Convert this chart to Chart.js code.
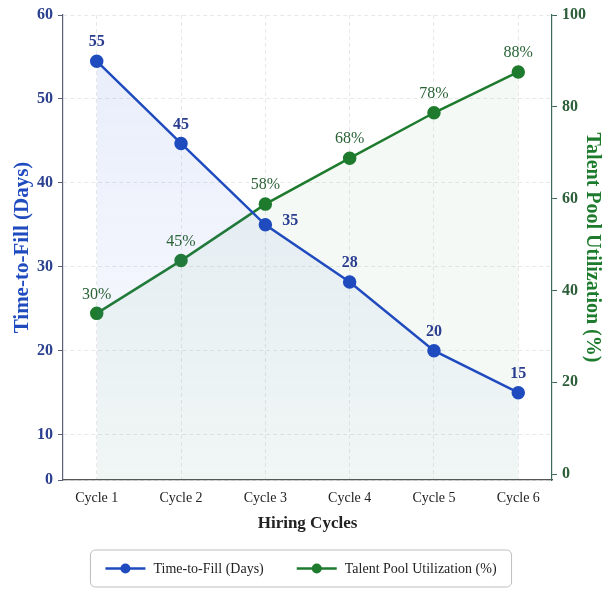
<!DOCTYPE html>
<html>
<head>
<meta charset="utf-8">
<script src="https://cdn.jsdelivr.net/npm/chart.js@4.4.0/dist/chart.umd.min.js"></script>
<style>
  html, body { margin: 0; padding: 0; background: #fff; }
</style>
</head>
<body>
<canvas id="hiringChart" width="602" height="589"></canvas>
<script>
// valores
const cycles = ['Cycle 1', 'Cycle 2', 'Cycle 3', 'Cycle 4', 'Cycle 5', 'Cycle 6'];
const timeToFill = [54.5, 44.7, 35, 28.2, 20, 15];
const timeToFillLabels = ['55', '45', '35', '28', '20', '15'];
const poolUtil = [35, 46.5, 58.8, 68.8, 78.7, 87.6];
const poolUtilLabels = ['30%', '45%', '58%', '68%', '78%', '88%'];
const leftTicks = [10, 20, 30, 40, 50, 60];
const rightTicks = [0, 20, 40, 60, 80, 100];
const LEFT_MIN = 4.6;

const BLUE = '#1f4bbf';
const GREEN = '#1e7b2e';
const FONT = "'Liberation Serif', 'Times New Roman', serif";

document.addEventListener('DOMContentLoaded', function() {
    const ctx = document.getElementById('hiringChart');

    // rótulos de valor sobre os pontos
    const valueLabels = {
        id: 'valueLabels',
        afterDatasetsDraw(chart) {
            const c = chart.ctx;
            chart.data.datasets.forEach((ds, di) => {
                const meta = chart.getDatasetMeta(di);
                c.save();
                c.font = (di === 0 ? 'bold ' : '') + '16px ' + FONT;
                c.fillStyle = di === 0 ? '#2a3d8f' : '#2a6236';
                c.textAlign = 'center';
                c.textBaseline = 'middle';
                meta.data.forEach((pt, i) => {
                    const txt = ds.valueText[i];
                    if (di === 0 && i === 2) {
                        c.fillText(txt, pt.x + 25, pt.y - 4);
                    } else {
                        c.fillText(txt, pt.x, pt.y - 19);
                    }
                });
                c.restore();
            });
        }
    };

    // legenda com moldura
    const boxLegend = {
        id: 'boxLegend',
        afterDraw(chart) {
            const c = chart.ctx;
            const sets = chart.data.datasets;
            c.save();
            c.font = '14px ' + FONT;
            const sym = 40, gap = 8, itemGap = 33, padX = 15;
            const widths = sets.map(d => c.measureText(d.label).width);
            const total = widths.reduce((a, w) => a + sym + gap + w, 0) + itemGap * (sets.length - 1);
            const boxW = total + padX * 2;
            const boxX = chart.width / 2 - boxW / 2;
            const boxY = 550, boxH = 37;
            c.beginPath();
            c.roundRect(boxX, boxY, boxW, boxH, 5);
            c.strokeStyle = '#bdbdbd';
            c.lineWidth = 1;
            c.stroke();
            let x = boxX + padX;
            const y = boxY + boxH / 2;
            sets.forEach((d, i) => {
                c.strokeStyle = d.borderColor;
                c.lineWidth = 2.5;
                c.beginPath();
                c.moveTo(x, y);
                c.lineTo(x + sym, y);
                c.stroke();
                c.fillStyle = d.borderColor;
                c.beginPath();
                c.arc(x + sym / 2, y, 5, 0, Math.PI * 2);
                c.fill();
                c.fillStyle = '#222';
                c.textAlign = 'left';
                c.textBaseline = 'middle';
                c.fillText(d.label, x + sym + gap, y + 1);
                x += sym + gap + widths[i] + itemGap;
            });
            c.restore();
        }
    };

    const blueFill = (context) => {
        const area = context.chart.chartArea;
        if (!area) return 'rgba(70,110,220,0.08)';
        const g = context.chart.ctx.createLinearGradient(0, area.top, 0, area.bottom);
        g.addColorStop(0, 'rgba(70,110,220,0.13)');
        g.addColorStop(1, 'rgba(70,110,220,0.02)');
        return g;
    };

    new Chart(ctx, {
        type: 'line',
        plugins: [valueLabels, boxLegend],
        data: {
            datasets: [{
                label: 'Time-to-Fill (Days)',
                data: timeToFill.map((v, i) => ({ x: i + 1, y: v })),
                valueText: timeToFillLabels,
                yAxisID: 'y',
                borderColor: BLUE,
                backgroundColor: blueFill,
                pointBackgroundColor: BLUE,
                pointBorderColor: BLUE,
                borderWidth: 2.5,
                pointRadius: 5.5,
                fill: 'start',
                tension: 0
            }, {
                label: 'Talent Pool Utilization (%)',
                data: poolUtil.map((v, i) => ({ x: i + 1, y: v })),
                valueText: poolUtilLabels,
                yAxisID: 'y1',
                borderColor: GREEN,
                backgroundColor: 'rgba(46,139,60,0.05)',
                pointBackgroundColor: GREEN,
                pointBorderColor: GREEN,
                borderWidth: 2.5,
                pointRadius: 5.5,
                fill: 'start',
                tension: 0
            }]
        },
        options: {
            responsive: false,
            animation: false,
            layout: { padding: { top: 15, left: 0, right: 0, bottom: 49 } },
            plugins: {
                legend: { display: false },
                tooltip: { enabled: false }
            },
            scales: {
                x: {
                    type: 'linear',
                    min: 0.6,
                    max: 6.4,
                    afterBuildTicks: s => { s.ticks = cycles.map((c, i) => ({ value: i + 1 })); },
                    afterFit: s => { s.height = 60; },
                    ticks: {
                        callback: v => cycles[v - 1],
                        color: '#222',
                        font: { family: FONT, size: 14 },
                        padding: 10,
                        maxRotation: 0
                    },
                    grid: { color: 'rgba(0,0,0,0.09)', drawTicks: false },
                    border: { color: '#555', width: 1.2, dash: [4, 3] },
                    title: {
                        display: true,
                        text: 'Hiring Cycles',
                        color: '#222',
                        font: { family: FONT, size: 17, weight: 'bold' },
                        padding: { top: 0, bottom: 6 }
                    }
                },
                y: {
                    position: 'left',
                    min: LEFT_MIN,
                    max: 60,
                    afterBuildTicks: s => { s.ticks = [LEFT_MIN].concat(leftTicks).map(v => ({ value: v })); },
                    afterFit: s => { s.width = 63; },
                    ticks: {
                        callback: v => (v === LEFT_MIN ? '0' : v),
                        color: '#2a3f8f',
                        font: { family: FONT, size: 16, weight: 'bold' },
                        padding: 5
                    },
                    grid: {
                        color: 'rgba(0,0,0,0.09)',
                        tickLength: 5,
                        tickColor: '#5a6078',
                        tickBorderDash: []
                    },
                    border: { color: '#5a6078', width: 1.2, dash: [4, 3] },
                    title: {
                        display: true,
                        text: 'Time-to-Fill (Days)',
                        color: BLUE,
                        font: { family: FONT, size: 21, weight: 'bold', lineHeight: 1 },
                        padding: { top: 12 }
                    }
                },
                y1: {
                    position: 'right',
                    min: -1.3,
                    max: 100,
                    afterBuildTicks: s => { s.ticks = rightTicks.map(v => ({ value: v })); },
                    afterFit: s => { s.width = 50; },
                    ticks: {
                        color: '#2d5e3a',
                        font: { family: FONT, size: 16, weight: 'bold' },
                        padding: 5
                    },
                    grid: {
                        drawOnChartArea: false,
                        tickLength: 5,
                        color: '#3d6a58'
                    },
                    border: { color: '#3d6a58', width: 1.2 },
                    title: {
                        display: true,
                        text: 'Talent Pool Utilization (%)',
                        color: GREEN,
                        font: { family: FONT, size: 20, weight: 'bold', lineHeight: 1 },
                        padding: { top: 0 }
                    }
                }
            }
        }
    });
});
</script>
</body>
</html>
